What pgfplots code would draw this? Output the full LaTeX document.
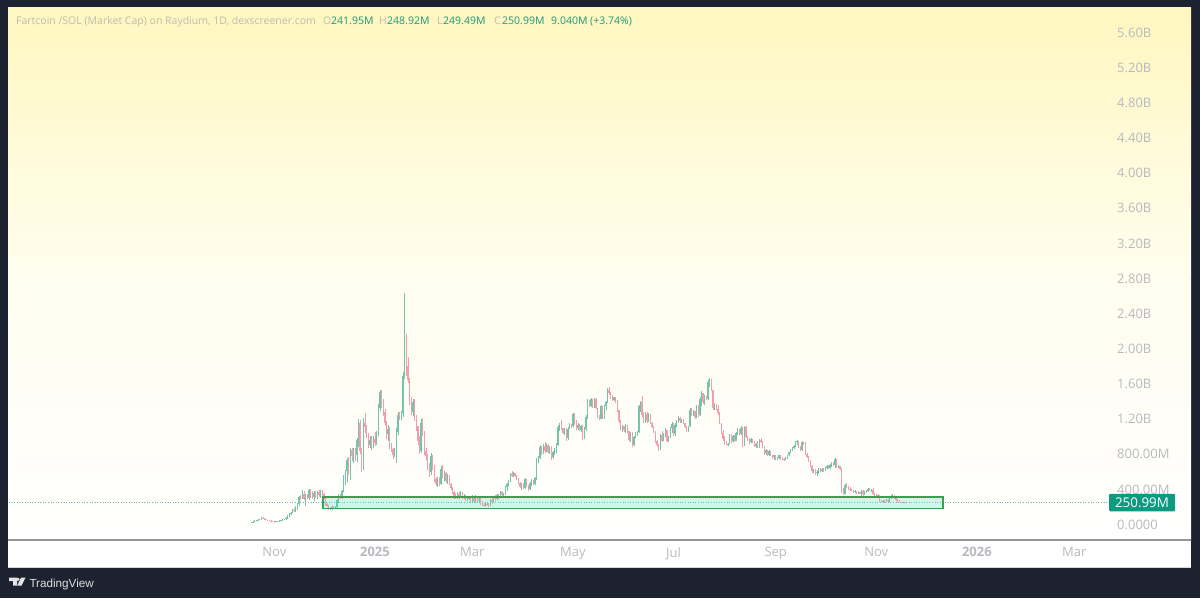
\documentclass[border=0pt]{standalone}
\usepackage{pgfplots}
\usepackage{pgfplotstable}
\usepackage{fontspec}
\setmainfont{Open Sans}
\newfontfamily\logofont{Liberation Sans}
\pgfplotsset{compat=1.18}
\definecolor{darkbg}{HTML}{1C2230}
\definecolor{tvgray}{HTML}{B8BAC0}
\definecolor{hdrgray}{HTML}{BEBDAE}
\definecolor{hdrgreen}{HTML}{1A9A78}
\definecolor{upc}{HTML}{74C4AC}
\definecolor{dnc}{HTML}{F29FAB}
\definecolor{boxline}{HTML}{3F9C50}
\definecolor{boxfill}{HTML}{D8F1EA}
\definecolor{lastp}{HTML}{0E9A80}
\pgfplotstableread{
d o h l c
-75 14 22 12 20
-74 20 30 16 26
-73 26 40 22 35
-72 35 48 30 42
-71 42 55 36 50
-70 50 60 44 55
-69 55 78 50 70
-68 70 82 58 62
-67 62 70 50 54
-66 54 60 42 46
-65 46 50 38 40
-64 40 44 30 34
-63 34 40 26 30
-62 30 34 24 28
-61 28 32 22 26
-60 26 34 22 30
-59 30 36 26 32
-58 32 40 28 36
-57 36 48 30 44
-56 44 54 38 50
-55 50 62 42 58
-54 58 80 50 72
-53 72 100 62 92
-52 92 130 85 120
-51 120 140 100 130
-50 130 175 120 165
-49 165 185 140 150
-48 150 210 140 200
-47 200 240 165 225
-46 225 320 200 305
-45 305 330 270 300
-44 300 385 285 340
-43 340 380 270 285
-42 285 340 200 320
-41 320 345 280 300
-40 300 400 270 385
-39 385 395 300 320
-38 320 370 290 310
-37 310 375 260 355
-36 355 375 300 320
-35 320 380 290 365
-34 365 385 310 330
-33 330 385 300 370
-32 370 385 320 340
-31 340 350 280 290
-30 290 300 205 225
-29 225 240 190 200
-28 200 215 165 180
-27 180 195 155 170
-26 170 200 160 190
-25 190 205 175 180
-24 180 200 170 195
-23 195 285 185 270
-22 270 340 240 320
-21 320 345 280 300
-20 300 390 290 380
-19 380 560 365 540
-18 540 620 440 600
-17 600 750 480 730
-16 730 760 560 600
-15 600 870 500 840
-14 840 870 720 770
-13 770 870 700 830
-12 830 860 720 790
-11 790 980 710 960
-10 960 1190 880 1150
-9 1150 1180 800 830
-8 830 860 595 640
-7 640 1205 620 1150
-6 1150 1265 1040 1100
-5 1100 1130 980 1010
-4 1010 1040 860 900
-3 900 1000 870 960
-2 960 1000 840 880
-1 880 1000 860 970
0 970 1050 890 920
1 920 1060 900 1030
2 1030 1365 1000 1320
3 1320 1525 1290 1500
4 1500 1530 1320 1400
5 1400 1420 1230 1280
6 1280 1310 1120 1150
7 1150 1170 970 1020
8 1020 1130 950 1080
9 1080 1100 850 900
10 900 920 820 850
11 850 870 740 780
12 780 860 760 830
13 830 1090 700 1050
14 1050 1280 1010 1240
15 1240 1270 1180 1220
16 1220 1290 1180 1260
17 1260 1730 1220 1680
18 1680 2629 1650 2150
19 2150 2160 1680 1800
20 1800 1904 1600 1640
21 1640 1660 1360 1420
22 1420 1450 1240 1270
23 1270 1420 1230 1390
24 1390 1420 1170 1200
25 1200 1240 1060 1110
26 1110 1120 900 940
27 940 1000 800 830
28 830 1200 810 1150
29 1150 1210 1000 1040
30 1040 1060 780 830
31 830 860 730 770
32 770 800 620 650
33 650 700 540 590
34 590 805 560 770
35 770 790 620 650
36 650 670 480 510
37 510 540 430 450
38 450 540 425 520
39 520 540 430 460
40 460 660 440 630
41 630 670 520 550
42 550 600 490 580
43 580 590 470 490
44 490 570 460 550
45 550 560 440 460
46 460 470 390 410
47 410 420 340 360
48 360 370 290 310
49 310 350 285 300
50 300 360 280 340
51 340 360 290 320
52 320 370 300 350
53 350 360 290 310
54 310 340 280 320
55 320 330 260 280
56 280 310 265 290
57 290 320 270 300
58 300 320 240 260
59 260 330 250 310
60 310 320 250 265
61 265 330 240 300
62 300 310 250 270
63 270 320 240 290
64 290 300 215 230
65 230 260 205 220
66 220 240 195 210
67 210 240 200 225
68 225 240 205 215
69 215 235 195 205
70 205 280 200 270
71 270 300 230 250
72 250 310 240 295
73 295 330 260 280
74 280 340 270 330
75 330 345 290 310
76 310 370 300 360
77 360 375 320 335
78 335 350 310 345
79 345 430 330 420
80 420 470 380 450
81 450 500 430 490
82 490 580 480 570
83 570 600 530 545
84 545 590 535 580
85 580 585 530 545
86 545 560 500 510
87 510 520 460 470
88 470 480 405 425
89 425 465 385 455
90 455 470 395 410
91 410 520 400 510
92 510 515 425 435
93 435 445 380 395
94 395 480 385 470
95 470 510 435 495
96 495 500 440 450
97 450 540 440 525
98 525 750 500 720
99 720 770 690 750
100 750 900 740 880
101 880 890 790 820
102 820 905 800 890
103 890 935 810 830
104 830 920 815 900
105 900 915 805 825
106 825 890 800 870
107 870 885 730 760
108 760 830 740 815
109 815 870 790 850
110 850 920 805 900
111 900 1130 890 1100
112 1100 1150 1060 1120
113 1120 1185 1070 1090
114 1090 1095 1020 1040
115 1040 1090 1010 1075
116 1075 1090 950 980
117 980 1100 960 1085
118 1085 1150 1080 1130
119 1130 1140 1090 1110
120 1110 1268 1100 1250
121 1250 1260 1130 1150
122 1150 1185 1070 1090
123 1090 1150 1070 1130
124 1130 1140 1060 1075
125 1075 1130 1050 1110
126 1110 1125 955 980
127 980 1100 970 1085
128 1085 1240 1060 1220
129 1220 1420 1200 1400
130 1400 1410 1330 1345
131 1345 1430 1330 1420
132 1420 1425 1325 1340
133 1340 1432 1320 1425
134 1425 1430 1310 1320
135 1320 1325 1210 1225
136 1225 1240 1185 1195
137 1195 1355 1190 1340
138 1340 1345 1200 1215
139 1215 1350 1200 1340
140 1340 1400 1300 1390
141 1390 1545 1380 1530
142 1530 1565 1470 1490
143 1490 1500 1420 1440
144 1440 1470 1395 1410
145 1410 1450 1400 1440
146 1440 1445 1380 1395
147 1395 1410 1280 1295
148 1295 1300 1150 1170
149 1170 1180 1070 1085
150 1085 1125 1050 1110
151 1110 1120 1050 1065
152 1065 1140 1040 1120
153 1120 1130 1040 1055
154 1055 1060 940 960
155 960 1050 930 1040
156 1040 1050 875 900
157 900 1000 890 990
158 990 1050 975 1030
159 1030 1060 1000 1050
160 1050 1355 1040 1340
161 1340 1400 1280 1390
162 1390 1458 1220 1240
163 1240 1280 1150 1170
164 1170 1270 1150 1250
165 1250 1280 1150 1170
166 1170 1260 1160 1245
167 1245 1250 1140 1150
168 1150 1160 1090 1100
169 1100 1110 1040 1050
170 1050 1060 920 940
171 940 960 880 900
172 900 910 835 850
173 850 1030 840 1010
174 1010 1060 930 950
175 950 1040 940 1030
176 1030 1090 995 1070
177 1070 1075 935 950
178 950 1000 930 990
179 990 1100 980 1090
180 1090 1160 1040 1140
181 1140 1150 1000 1020
182 1020 1150 1000 1130
183 1130 1180 1100 1165
184 1165 1225 1150 1210
185 1210 1220 1150 1170
186 1170 1195 1150 1190
187 1190 1195 1140 1150
188 1150 1155 1090 1100
189 1100 1110 1050 1065
190 1065 1120 1050 1110
191 1110 1320 1100 1300
192 1300 1315 1230 1245
193 1245 1300 1230 1285
194 1285 1290 1200 1215
195 1215 1355 1205 1340
196 1340 1350 1220 1235
197 1235 1440 1225 1420
198 1420 1510 1340 1490
199 1490 1495 1370 1385
200 1385 1470 1355 1450
201 1450 1460 1410 1420
202 1420 1640 1410 1620
203 1620 1660 1560 1640
204 1640 1650 1510 1520
205 1520 1530 1300 1320
206 1320 1375 1300 1360
207 1360 1370 1300 1310
208 1310 1355 1240 1260
209 1260 1270 1140 1150
210 1150 1155 1020 1040
211 1040 1070 950 970
212 970 1000 900 930
213 930 940 895 905
214 905 925 888 915
215 915 1030 905 1010
216 1010 1030 920 940
217 940 1010 930 1000
218 1000 1010 930 945
219 945 1050 940 1035
220 1035 1090 1010 1080
221 1080 1085 1010 1025
222 1025 1110 1015 1095
223 1095 1105 880 900
224 900 1115 890 1100
225 1100 1110 975 990
226 990 1000 940 955
227 955 975 915 930
228 930 980 920 965
229 965 970 920 935
230 935 940 880 890
231 890 920 860 910
232 910 940 865 880
233 880 970 870 960
234 960 975 920 935
235 935 945 860 880
236 880 890 790 805
237 805 850 785 840
238 840 845 770 785
239 785 845 770 830
240 830 835 770 780
241 780 790 740 760
242 760 790 730 780
243 780 785 725 740
244 740 760 725 750
245 750 790 740 780
246 780 790 730 745
247 745 760 725 735
248 735 750 720 730
249 730 760 725 755
250 755 790 745 780
251 780 825 770 815
252 815 850 805 845
253 845 880 835 870
254 870 900 850 890
255 890 940 880 930
256 930 958 900 945
257 945 950 865 880
258 880 890 830 845
259 845 940 835 930
260 930 938 900 925
261 925 938 785 800
262 800 805 750 765
263 765 775 705 720
264 720 725 650 665
265 665 670 585 600
266 600 630 585 620
267 620 625 560 575
268 575 615 545 590
269 590 640 570 620
270 620 635 590 600
271 600 635 590 625
272 625 635 595 605
273 605 650 600 640
274 640 670 625 660
275 660 672 630 640
276 640 680 630 670
277 670 710 650 695
278 695 705 655 670
279 670 748 640 735
280 735 740 640 655
281 655 672 635 660
282 660 665 620 630
283 630 635 350 370
284 370 405 330 345
285 345 460 340 445
286 445 462 405 420
287 420 430 390 400
288 400 425 380 390
289 390 400 370 375
290 375 390 350 360
291 360 385 350 370
292 370 380 345 355
293 355 370 340 360
294 360 365 340 345
295 345 388 320 370
296 370 385 320 340
297 340 380 335 370
298 370 390 350 380
299 380 405 360 395
300 395 405 370 380
301 380 400 360 390
302 390 405 335 345
303 345 350 310 320
304 320 340 305 330
305 330 338 300 310
306 310 335 255 265
307 265 275 245 255
308 255 275 245 265
309 265 275 243 250
310 250 280 245 270
311 270 290 255 265
312 265 312 255 300
313 300 325 290 315
314 315 338 300 330
315 330 335 285 295
316 295 300 265 275
317 275 285 255 262
318 262 270 245 250
319 250 255 235 240
320 240 250 235 245
321 245 250 235 240
322 240 252 238 250
}\candles
\newcommand{\cplot}[3]{%
 \addplot[draw=none,forget plot,restrict expr to domain={\thisrow{c}-\thisrow{o}}{#3},
   error bars/.cd,y dir=plus,y explicit,error mark=none,error bar style={#1,line width=0.6pt}]
   table[x=d,y=l,y error plus expr={\thisrow{h}-\thisrow{l}}]{\candles};
 \addplot[draw=none,forget plot,restrict expr to domain={\thisrow{c}-\thisrow{o}}{#3},
   error bars/.cd,y dir=plus,y explicit,error mark=none,error bar style={#1,line width=#2}]
   table[x=d,y expr={min(\thisrow{o},\thisrow{c})},y error plus expr={abs(\thisrow{c}-\thisrow{o})}]{\candles};
}
\begin{document}
\begin{tikzpicture}[x=1pt,y=1pt]
\fill[darkbg] (0,0) rectangle (1200,598);
\fill[white] (8,31) rectangle (1191,590);
\shade[top color={rgb,255:red,255;green,247;blue,192},bottom color={rgb,255:red,255;green,253;blue,238}] (8,324) rectangle (1191,590);
\shade[top color={rgb,255:red,255;green,253;blue,238},bottom color=white] (8,58) rectangle (1191,324);
\draw[line width=1.2pt,color=black!42] (8,58) -- (1191,58);
\draw[line width=1pt,color=black!15!white] (8,31) -- (1191,31);
\begin{axis}[
  at={(9pt,58pt)},anchor=south west,scale only axis,
  width=1099pt,height=531pt,
  xmin=-221.9,xmax=444.5,ymin=-182.1,ymax=5861.7,
  axis line style={draw=none},
  tick style={draw=none},
  yticklabel pos=right,
  ytick={0,400,800,1200,1600,2000,2400,2800,3200,3600,4000,4400,4800,5200,5600},
  yticklabels={0.0000,400.00M,800.00M,1.20B,1.60B,2.00B,2.40B,2.80B,3.20B,3.60B,4.00B,4.40B,4.80B,5.20B,5.60B},
  y tick label style={anchor=west,inner sep=0pt,yshift=-0.6pt,color=tvgray,font=\fontsize{13}{15}\selectfont},
  yticklabel shift=9pt,
  xtick={-61,0,59,120,181,243,304,365,424},
  xticklabels={Nov,\textbf{2025},Mar,May,Jul,Sep,Nov,\textbf{2026},Mar},
  x tick label style={inner sep=0pt,color=tvgray,font=\fontsize{13}{15}\selectfont},
  xticklabel shift=7pt,
]
\addplot[forget plot,draw=none,fill=boxfill] coordinates {(-31.5,176) (344.4,176) (344.4,307) (-31.5,307)} --cycle;
\addplot[forget plot,line width=0.6pt,dotted,color=lastp!65!white] coordinates {(-221.9,250.99) (444.5,250.99)};
\cplot{upc}{1.3pt}{0:100000}
\cplot{dnc}{1.3pt}{-100000:-0.001}
\addplot[forget plot,line width=1.7pt,color=boxline] coordinates {(-31.5,176) (344.4,176) (344.4,307) (-31.5,307)} --cycle;
\end{axis}
% price tag
\node[anchor=center,fill=lastp,text=white,inner sep=0pt,minimum width=66pt,minimum height=17.5pt,rounded corners=1pt,font=\fontsize{13.4}{15}\selectfont] at (1142,95.5) {250.99M};
% header
\begin{scope}[every node/.style={anchor=base west,inner sep=0pt,font=\fontsize{10.5}{13}\selectfont}]
\node[text=hdrgray] at (16,573) {Fartcoin /SOL (Market Cap) on Raydium, 1D, dexscreener.com};
\node[text=hdrgray] at (323,573) {O};
\node[text=hdrgreen] at (331,573) {241.95M};
\node[text=hdrgray] at (379,573) {H};
\node[text=hdrgreen] at (387,573) {248.92M};
\node[text=hdrgray] at (437,573) {L};
\node[text=hdrgreen] at (443,573) {249.49M};
\node[text=hdrgray] at (494,573) {C};
\node[text=hdrgreen] at (502,573) {250.99M};
\node[text=hdrgreen] at (551,573) {9.040M (+3.74\%)};
\end{scope}
% logo
\fill[white!88!darkbg] (9,20.3) -- (17,20.3) -- (17,12.3) -- (13,12.3) -- (13,17) -- (9,17) -- cycle;
\fill[white!88!darkbg] (18,18.7) circle (1.7);
\fill[white!88!darkbg] (21,20.3) -- (25.5,20.3) -- (21.5,12.3) -- (17.2,12.3) -- cycle;
\node[anchor=base west,inner sep=0pt,text=white!85!darkbg,font=\fontsize{11.7}{15}\selectfont\logofont] at (29.3,11) {TradingView};
\end{tikzpicture}
\end{document}
